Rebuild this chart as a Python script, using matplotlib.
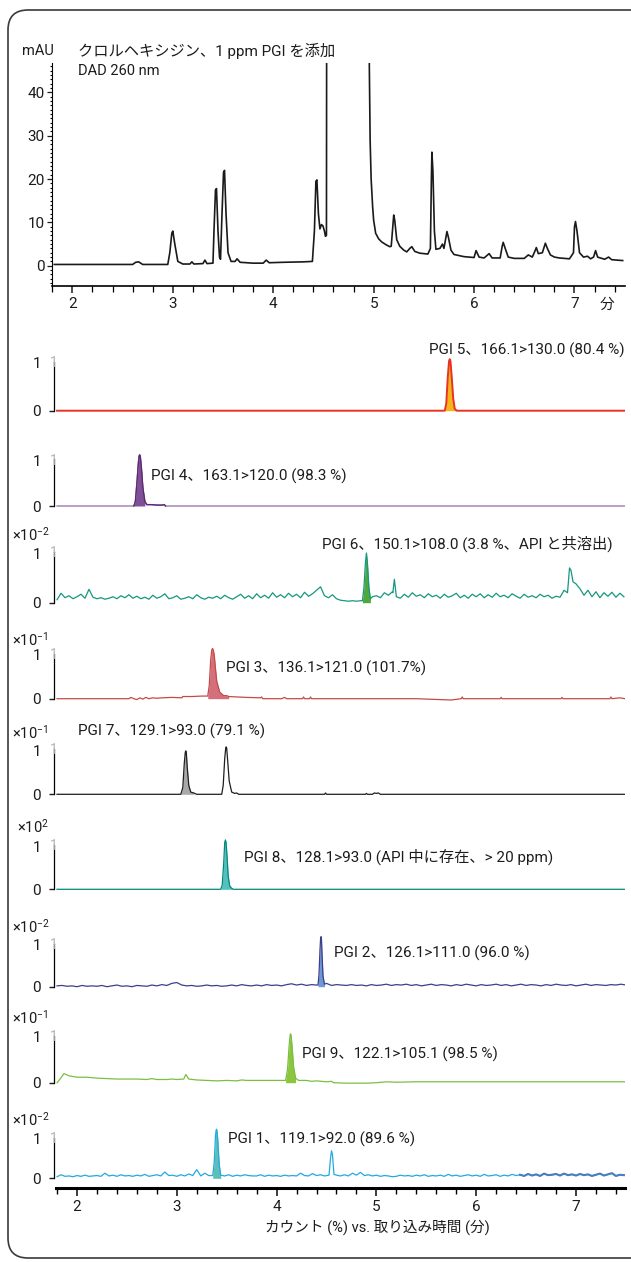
import numpy as np
import matplotlib
matplotlib.use('Agg')
import matplotlib.pyplot as plt
from matplotlib.patches import FancyBboxPatch
from matplotlib.ticker import MultipleLocator

plt.rcParams['font.family'] = ['Roboto', 'Noto Sans CJK JP', 'DejaVu Sans']
plt.rcParams['mathtext.fontset'] = 'custom'
plt.rcParams['mathtext.rm'] = 'Roboto'
plt.rcParams['mathtext.default'] = 'regular'

# ---------------- data ----------------
# UV chromatogram (DAD 260 nm), time [min], mAU
uv_t = [1.82, 2.20, 2.60, 2.63, 2.66, 2.70, 2.95, 2.97, 2.99, 3.00, 3.02, 3.05, 3.10, 3.17, 3.19, 3.21,
        3.30, 3.32, 3.34, 3.40, 3.41, 3.425, 3.435, 3.45, 3.465, 3.475, 3.49, 3.505, 3.515, 3.53, 3.55,
        3.58, 3.62, 3.64, 3.67, 3.80, 3.90, 3.93, 3.96, 4.10, 4.30, 4.39, 4.41, 4.425, 4.435, 4.45,
        4.465, 4.48, 4.495, 4.51, 4.52, 4.53, 4.535, 4.94, 4.954, 4.957, 4.965, 4.975, 4.99, 5.00,
        5.02, 5.05, 5.08, 5.12, 5.16, 5.175, 5.19, 5.20, 5.21, 5.23, 5.26, 5.30, 5.33, 5.36, 5.38,
        5.41, 5.46, 5.54, 5.565, 5.575, 5.58, 5.59, 5.605, 5.62, 5.66, 5.685, 5.70, 5.715, 5.73,
        5.745, 5.77, 5.80, 5.90, 6.00, 6.02, 6.05, 6.10, 6.15, 6.18, 6.26, 6.28, 6.29, 6.31, 6.34,
        6.40, 6.50, 6.54, 6.58, 6.61, 6.62, 6.64, 6.68, 6.71, 6.73, 6.76, 6.80, 6.85, 6.95, 6.99,
        7.00, 7.01, 7.025, 7.05, 7.09, 7.13, 7.16, 7.19, 7.21, 7.23, 7.30, 7.34, 7.37, 7.48]
uv_y = [0.3, 0.3, 0.3, 0.8, 0.9, 0.3, 0.3, 3.0, 7.5, 8.0, 5.0, 1.0, 0.4, 0.4, 0.9, 0.4,
        0.5, 1.3, 0.5, 0.6, 8.0, 17.5, 17.8, 8.0, 2.0, 1.5, 12.0, 21.5, 22.0, 12.0, 3.0,
        1.0, 1.0, 1.6, 0.8, 0.6, 0.6, 1.3, 0.7, 0.8, 0.9, 1.0, 8.0, 19.5, 19.8, 12.0,
        8.5, 9.5, 9.2, 8.0, 6.8, 7.0, 120.0, 120.0, 120.0, 46.0, 29.0, 20.0, 13.6, 10.5,
        7.5, 6.2, 5.5, 4.9, 4.4, 4.5, 9.0, 11.7, 10.5, 6.0, 4.5, 3.6, 3.2, 4.0, 4.4,
        3.3, 2.9, 2.7, 4.0, 20.0, 26.2, 22.0, 8.0, 3.8, 4.0, 5.0, 4.0, 6.0, 7.9,
        6.5, 3.6, 2.6, 2.1, 1.9, 3.5, 2.0, 1.8, 2.8, 1.8, 1.8, 4.5, 5.4, 4.0, 2.0,
        1.7, 1.7, 2.5, 2.0, 3.6, 4.2, 2.8, 3.0, 5.2, 4.0, 2.5, 2.0, 1.8, 1.6, 3.0,
        9.0, 10.2, 8.0, 3.0, 2.0, 2.2, 1.6, 2.0, 3.5, 2.0, 1.5, 2.0, 1.4, 1.2]

# MRM traces (normalised counts)
pgi5_t = [1.80, 5.685, 5.70, 5.715, 5.728, 5.735, 5.742, 5.755, 5.77, 5.785, 5.805, 7.49]
pgi5_y = [0.0, 0.0, 0.15, 0.7, 1.04, 1.08, 1.04, 0.7, 0.25, 0.04, 0.0, 0.0]

pgi4_t = [1.80, 2.57, 2.585, 2.60, 2.615, 2.622, 2.628, 2.635, 2.645, 2.66, 2.68, 2.70, 2.75, 2.80, 2.85, 2.875, 2.885, 7.49]
pgi4_y = [0.0, 0.0, 0.1, 0.5, 0.95, 1.10, 1.13, 1.08, 0.85, 0.4, 0.1, 0.03, 0.03, 0.02, 0.02, 0.03, 0.0, 0.0]

pgi6_grid = [0.06, 0.19, 0.10, 0.14, 0.08, 0.12, 0.17, 0.09, 0.27, 0.11,
             0.08, 0.10, 0.07, 0.09, 0.12, 0.08, 0.14, 0.10, 0.16, 0.09,
             0.13, 0.08, 0.11, 0.07, 0.15, 0.09, 0.12, 0.18, 0.08, 0.10,
             0.14, 0.07, 0.09, 0.12, 0.08, 0.16, 0.10, 0.07, 0.11, 0.09,
             0.13, 0.08, 0.15, 0.10, 0.07, 0.12, 0.17, 0.09, 0.14, 0.08,
             0.18, 0.10, 0.15, 0.09, 0.20, 0.11, 0.16, 0.10, 0.19, 0.12,
             0.17, 0.10, 0.21, 0.13, 0.18, 0.25, 0.32, 0.14, 0.10, 0.16,
             0.08, 0.05, 0.04, 0.03, 0.04, 0.03, 0.04, 0.05, 0.06, 0.12,
             0.14, 0.10, 0.20, 0.15, 0.22, 0.12, 0.09, 0.17, 0.11, 0.20,
             0.13, 0.16, 0.10, 0.18, 0.12, 0.15, 0.09, 0.17, 0.11, 0.14,
             0.19, 0.10, 0.15, 0.09, 0.17, 0.12, 0.18, 0.10, 0.16, 0.11,
             0.19, 0.12, 0.15, 0.10, 0.18, 0.13, 0.09, 0.17, 0.11, 0.14,
             0.10, 0.17, 0.12, 0.15, 0.09, 0.13, 0.11, 0.25, 0.14, 0.20,
             0.38, 0.28, 0.15, 0.25, 0.12, 0.22, 0.10, 0.20, 0.13, 0.21, 0.11, 0.19, 0.12]
pgi6_ev_t = [4.86, 4.875, 4.89, 4.90, 4.91, 4.925, 4.94, 5.165, 5.18, 5.195, 6.915, 6.935, 6.95, 6.97]
pgi6_ev_y = [0.04, 0.3, 0.8, 1.0, 0.8, 0.3, 0.08, 0.2, 0.47, 0.2, 0.2, 0.7, 0.65, 0.42]

pgi3_t = [1.80, 2.52, 2.54, 2.57, 2.60, 2.63, 2.66, 2.69, 2.72, 2.76, 2.80, 2.85, 2.95, 3.05, 3.06,
          3.15, 3.25, 3.31, 3.325, 3.34, 3.35, 3.358, 3.365, 3.375, 3.385, 3.40, 3.43, 3.47, 3.50, 3.52, 3.60,
          3.70, 3.84, 3.85, 3.86, 4.05, 4.08, 4.10, 4.26, 4.27, 4.28, 4.33, 4.34, 4.35, 5.40,
          5.75, 5.85, 5.86, 5.87, 6.24, 6.25, 6.26, 6.85, 6.86, 6.87, 7.34, 7.35, 7.36, 7.44, 7.49]
pgi3_y = [0.0, 0.0, 0.03, 0.0, -0.02, 0.02, -0.01, 0.03, 0.0, 0.02, 0.01, 0.02, 0.03, 0.02, 0.05,
          0.05, 0.06, 0.06, 0.3, 0.9, 1.11, 1.15, 1.12, 1.0, 0.75, 0.4, 0.15, 0.07, 0.07, 0.05, 0.04,
          0.03, 0.02, 0.04, 0.0, 0.0, 0.03, 0.0, 0.0, 0.04, 0.0, 0.0, 0.04, 0.0, 0.0,
          -0.03, 0.0, 0.04, 0.0, 0.0, 0.03, 0.0, 0.0, 0.03, 0.0, 0.0, 0.04, 0.0, 0.02, 0.0]

pgi7_t = [1.80, 3.04, 3.06, 3.075, 3.085, 3.09, 3.095, 3.105, 3.12, 3.14, 3.17, 3.20, 3.45, 3.465, 3.48,
          3.49, 3.495, 3.50, 3.51, 3.525, 3.55, 3.58, 3.60, 3.62, 4.48, 4.49, 4.50, 4.89, 4.90, 4.91,
          4.96, 4.98, 5.00, 5.02, 5.04, 7.49]
pgi7_y = [0.0, 0.0, 0.15, 0.7, 0.95, 0.98, 0.95, 0.6, 0.2, 0.05, 0.03, 0.0, 0.0, 0.2, 0.8,
          1.04, 1.07, 1.04, 0.75, 0.3, 0.05, 0.02, 0.03, 0.0, 0.0, 0.03, 0.0, 0.0, 0.02, 0.0,
          0.0, 0.03, 0.02, 0.03, 0.0, 0.0]

pgi8_t = [1.80, 3.44, 3.455, 3.47, 3.48, 3.487, 3.494, 3.505, 3.515, 3.53, 3.55, 3.57, 7.49]
pgi8_y = [0.0, 0.0, 0.1, 0.6, 1.08, 1.14, 1.08, 0.7, 0.3, 0.08, 0.02, 0.0, 0.0]

pgi2_grid = [0.02, 0.03, 0.01, 0.02, 0.00, 0.03, 0.01, 0.02, 0.01, 0.03,
             0.00, 0.02, 0.04, 0.01, 0.02, 0.00, 0.03, 0.02, 0.01, 0.04,
             0.02, 0.05, 0.03, 0.08, 0.10, 0.04, 0.02, 0.03, 0.01, 0.02,
             0.04, 0.02, 0.03, 0.01, 0.02, 0.04, 0.02, 0.05, 0.03, 0.02,
             0.04, 0.02, 0.05, 0.03, 0.04, 0.02, 0.05, 0.07, 0.04, 0.06,
             0.03, 0.05, 0.04, 0.06, 0.08, 0.03, 0.05, 0.04, 0.03, 0.05,
             0.03, 0.04, 0.02, 0.05, 0.03, 0.04, 0.06, 0.03, 0.05, 0.04,
             0.06, 0.03, 0.05, 0.02, 0.04, 0.06, 0.03, 0.05, 0.04, 0.02,
             0.05, 0.03, 0.06, 0.04, 0.02, 0.05, 0.03, 0.04, 0.06, 0.03,
             0.05, 0.02, 0.04, 0.06, 0.03, 0.05, 0.04, 0.02, 0.05, 0.03,
             0.06, 0.04, 0.03, 0.05, 0.02, 0.04, 0.06, 0.03, 0.05, 0.04,
             0.03, 0.05, 0.04, 0.06, 0.04]
pgi2_ev_t = [4.415, 4.425, 4.435, 4.441, 4.445, 4.449, 4.455, 4.465, 4.48]
pgi2_ev_y = [0.04, 0.3, 0.9, 1.16, 1.2, 1.16, 0.8, 0.25, 0.06]

pgi9_t = [1.80, 1.83, 1.87, 1.92, 2.00, 2.10, 2.20, 2.40, 2.60, 2.70, 2.75, 2.80, 2.90, 2.95, 3.00,
          3.07, 3.09, 3.12, 3.20, 3.30, 3.40, 3.50, 3.60, 3.65, 3.70, 3.90, 4.00, 4.09, 4.11,
          4.125, 4.135, 4.14, 4.145, 4.155, 4.17, 4.19, 4.22, 4.30, 4.35, 4.40, 4.50, 4.55, 4.57, 4.70, 4.90,
          5.00, 5.10, 5.20, 5.40, 5.60, 5.80, 6.00, 6.40, 6.80, 7.00, 7.20, 7.49]
pgi9_y = [0.0, 0.08, 0.2, 0.15, 0.12, 0.12, 0.10, 0.08, 0.08, 0.07, 0.09, 0.07, 0.07, 0.08, 0.07,
          0.08, 0.18, 0.08, 0.06, 0.05, 0.04, 0.05, 0.04, 0.06, 0.05, 0.05, 0.05, 0.05, 0.3,
          0.8, 1.03, 1.07, 1.03, 0.8, 0.35, 0.1, 0.05, 0.05, 0.03, 0.04, 0.02, 0.03, 0.0, -0.01, -0.01,
          0.0, 0.02, 0.01, 0.02, 0.02, 0.02, 0.02, 0.02, 0.02, 0.02, 0.02, 0.02]

pgi1_grid = [0.04, 0.09, 0.05, 0.06, 0.04, 0.07, 0.05, 0.08, 0.05, 0.06,
             0.07, 0.05, 0.13, 0.06, 0.08, 0.05, 0.09, 0.06, 0.07, 0.05,
             0.08, 0.06, 0.10, 0.05, 0.07, 0.09, 0.06, 0.16, 0.07, 0.08,
             0.05, 0.09, 0.06, 0.11, 0.07, 0.22, 0.06, 0.13, 0.07, 0.08,
             0.07, 0.08, 0.06, 0.09, 0.05, 0.08, 0.06, 0.09, 0.07, 0.06,
             0.06, 0.09, 0.05, 0.08, 0.06, 0.07, 0.05, 0.08, 0.06, 0.07,
             0.06, 0.13, 0.07, 0.06, 0.12, 0.07, 0.09, 0.06, 0.08, 0.07,
             0.08, 0.06, 0.09, 0.06, 0.13, 0.08, 0.15, 0.07, 0.09, 0.06,
             0.08, 0.05, 0.07, 0.06, 0.04, 0.05, 0.08, 0.06, 0.07, 0.05,
             0.08, 0.06, 0.09, 0.05, 0.07, 0.06, 0.08, 0.05, 0.10, 0.06,
             0.08, 0.05, 0.07, 0.09, 0.06, 0.08, 0.05, 0.10, 0.06, 0.07,
             0.09, 0.05, 0.08, 0.06, 0.10, 0.07, 0.09, 0.06, 0.11, 0.07,
             0.10, 0.06, 0.12, 0.08, 0.09, 0.11, 0.07, 0.12, 0.08, 0.10,
             0.07, 0.11, 0.08, 0.10, 0.06, 0.09, 0.12, 0.07, 0.10, 0.13, 0.06, 0.09, 0.08]
pgi1_ev_t = [3.36, 3.375, 3.388, 3.394, 3.398, 3.403, 3.41, 3.425, 3.44, 4.525, 4.54, 4.55, 4.56, 4.575]
pgi1_ev_y = [0.07, 0.4, 1.1, 1.22, 1.25, 1.2, 1.0, 0.35, 0.08, 0.08, 0.5, 0.7, 0.6, 0.1]

labels = ['PGI 5、166.1>130.0 (80.4 %)', 'PGI 4、163.1>120.0 (98.3 %)',
          'PGI 6、150.1>108.0 (3.8 %、API と共溶出)', 'PGI 3、136.1>121.0 (101.7%)',
          'PGI 7、129.1>93.0 (79.1 %)', 'PGI 8、128.1>93.0 (API 中に存在、> 20 ppm)',
          'PGI 2、126.1>111.0 (96.0 %)', 'PGI 9、122.1>105.1 (98.5 %)',
          'PGI 1、119.1>92.0 (89.6 %)']
multipliers = ['', '', '×10$^{-2}$', '×10$^{-1}$', '×10$^{-1}$', '×10$^{2}$',
               '×10$^{-2}$', '×10$^{-1}$', '×10$^{-2}$']


def merge(grid_t, grid_y, ev_t, ev_y, windows):
    gt = np.asarray(grid_t, float)
    gy = np.asarray(grid_y, float)
    keep = np.ones(len(gt), bool)
    for a, b in windows:
        keep &= ~((gt >= a) & (gt <= b))
    t = np.concatenate([gt[keep], ev_t])
    y = np.concatenate([gy[keep], ev_y])
    o = np.argsort(t)
    return t[o], y[o]


grid04 = np.round(np.linspace(1.80, 7.48, len(pgi6_grid)), 3)
grid05 = np.round(np.linspace(1.80, 7.50, len(pgi2_grid)), 3)
p6_t, p6_y = merge(grid04, pgi6_grid, pgi6_ev_t, pgi6_ev_y, [(4.86, 4.94), (5.165, 5.195), (6.915, 6.97)])
p2_t, p2_y = merge(grid05, pgi2_grid, pgi2_ev_t, pgi2_ev_y, [(4.415, 4.48)])
p1_t, p1_y = merge(grid04, pgi1_grid, pgi1_ev_t, pgi1_ev_y, [(3.36, 3.44), (4.525, 4.575)])

# ---------------- figure ----------------
W, H = 631, 1262
fig = plt.figure(figsize=(W / 100, H / 100), dpi=100)


def fx(px):
    return px / W


def fy(py):
    return 1 - py / H


bg = fig.add_axes([0, 0, 1, 1], zorder=0)
bg.set_xlim(0, W)
bg.set_ylim(H, 0)
bg.axis('off')
bg.add_patch(FancyBboxPatch((8, 10), 680, 1248, boxstyle='round,pad=0,rounding_size=20',
                            fc='none', ec='#3a3a3a', lw=1.2))

TXT = '#1c1c1c'

# ---- UV panel ----
ax = fig.add_axes([fx(52.3), fy(285.7), (625 - 52.3) / W, (285.7 - 63.3) / H], zorder=2)
ax.patch.set_alpha(0)
ax.plot(uv_t, uv_y, color='#1a1a1a', lw=1.2)
ax.set_xlim(1.80, 7.503)
ax.set_ylim(-4.6, 46.7)
for s in ['top', 'right']:
    ax.spines[s].set_visible(False)
ax.spines['left'].set_linewidth(0.8)
ax.spines['bottom'].set_linewidth(1.2)
ax.set_yticks([0, 10, 20, 30, 40])
ax.yaxis.set_minor_locator(MultipleLocator(1))
ax.set_xticks([2, 3, 4, 5, 6, 7])
ax.xaxis.set_minor_locator(MultipleLocator(0.2))
ax.tick_params(axis='y', which='major', length=3.5, width=0.9, pad=2, labelsize=11, colors=TXT)
ax.tick_params(axis='y', which='minor', length=1.5, width=0.8)
ax.tick_params(axis='x', which='major', length=5, width=1.1, pad=3, labelsize=11, colors=TXT)
ax.tick_params(axis='x', which='minor', length=4, width=0.9)

fig.text(fx(38), fy(51), 'mAU', ha='center', va='center', fontsize=10.5, color=TXT)
fig.text(fx(78.5), fy(51), 'クロルヘキシジン、1 ppm PGI を添加', ha='left', va='center', fontsize=11, color=TXT)
fig.text(fx(78.5), fy(71), 'DAD 260 nm', ha='left', va='center', fontsize=10.5, color=TXT)
fig.text(fx(607), fy(305), '分', ha='center', va='center', fontsize=10.5, color=TXT)

# ---- MRM panels ----
traces = [
    (pgi5_t, pgi5_y, '#e63323', '#f6b31b', None, (5.685, 5.805)),
    (pgi4_t, pgi4_y, '#9169a8', '#7f4f98', '#5c2a70', (2.57, 2.69)),
    (p6_t, p6_y, '#16977f', '#4fa83a', None, (4.86, 4.94)),
    (pgi3_t, pgi3_y, '#c44b45', '#d4707c', None, (3.31, 3.52)),
    (pgi7_t, pgi7_y, '#1e1e1e', '#a9a9a9', None, (3.04, 3.17)),
    (pgi8_t, pgi8_y, '#00897b', '#55c0c0', None, (3.44, 3.57)),
    (p2_t, p2_y, '#3c3f8c', '#6d98d6', None, (4.415, 4.48)),
    (pgi9_t, pgi9_y, '#7bbf42', '#8cc63f', None, (4.09, 4.19)),
    (p1_t, p1_y, '#22a9e1', '#5cbfb8', None, (3.36, 3.44)),
]
zero_px = [410.7, 506.0, 602.7, 698.7, 794.3, 889.3, 986.7, 1082.7, 1178.3]
unit_px = [47.7, 45.3, 49.7, 43.7, 44.3, 43.3, 41.7, 45.7, 39.3]
mult_px = [None, None, 535, 640, 733, 827, 927, 1018, 1120]
label_pos = [(625, 350, 'right'), (151.3, 476.7, 'left'), (322, 544, 'left'),
             (226, 668, 'left'), (78, 731.7, 'left'), (244, 856.7, 'left'),
             (334.4, 953.3, 'left'), (301.8, 1054, 'left'), (227.8, 1139.3, 'left')]

LO, HI = -0.25, 1.3
for k, (t, y, lc, fc, dark, (f0, f1)) in enumerate(traces):
    z, u = zero_px[k], unit_px[k]
    bottom_px = z - LO * u
    a = fig.add_axes([fx(53.5), fy(bottom_px), (625 - 53.5) / W, (HI - LO) * u / H], zorder=2)
    a.patch.set_alpha(0)
    a.set_xlim(1.7645, 7.491)
    a.set_ylim(LO, HI)
    t = np.asarray(t, float)
    y = np.asarray(y, float)
    m = (t >= f0) & (t <= f1)
    a.fill_between(t[m], 0, y[m], color=fc, lw=0, zorder=1)
    a.plot(t, y, color=lc, lw=0.9 if k != 0 else 1.4, zorder=2)
    if dark is not None:
        md = (t >= 2.565) & (t <= 2.89)
        a.plot(t[md], y[md], color=dark, lw=1.0, zorder=3)
    if k == 8:
        md = t >= 6.43
        a.plot(t[md], y[md], color='#4a7cc0', lw=1.5, zorder=3)
    for s in ['top', 'right']:
        a.spines[s].set_visible(False)
    a.spines['left'].set_bounds(0, 1.03)
    a.spines['left'].set_linewidth(0.9)
    a.set_yticks([0, 1])
    a.set_yticklabels(['0', '1'])
    a.tick_params(axis='y', length=3.5, width=1.0, pad=5.5, labelsize=11, colors=TXT)
    a.yaxis.get_major_ticks()[1].tick1line.set_visible(False)
    if k == 8:
        a.spines['bottom'].set_linewidth(2.2)
        a.spines['bottom'].set_bounds(1.79, 7.491)
        a.set_xticks([2, 3, 4, 5, 6, 7])
        a.xaxis.set_minor_locator(MultipleLocator(0.2))
        a.tick_params(axis='x', which='major', length=5.5, width=1.2, pad=3, labelsize=11, colors=TXT)
        a.tick_params(axis='x', which='minor', length=4.5, width=1.0)
    else:
        a.spines['bottom'].set_visible(False)
        a.set_xticks([])
    fig.text(fx(54), fy(z - u), '1', ha='center', va='center', fontsize=10, color='#b4b4b4', zorder=5)
    if mult_px[k] is not None:
        xm = 16.7 if '{2}' in multipliers[k] else 12
        fig.text(fx(xm), fy(mult_px[k]), multipliers[k], ha='left', va='center', fontsize=10.5, color=TXT)
    lx, ly, ha = label_pos[k]
    fig.text(fx(lx), fy(ly), labels[k], ha=ha, va='center', fontsize=11, color=TXT)

fig.text(fx(377), fy(1227), 'カウント (%) vs. 取り込み時間 (分)', ha='center', va='center', fontsize=10.5, color=TXT)

fig.savefig('out.png', dpi=100)
